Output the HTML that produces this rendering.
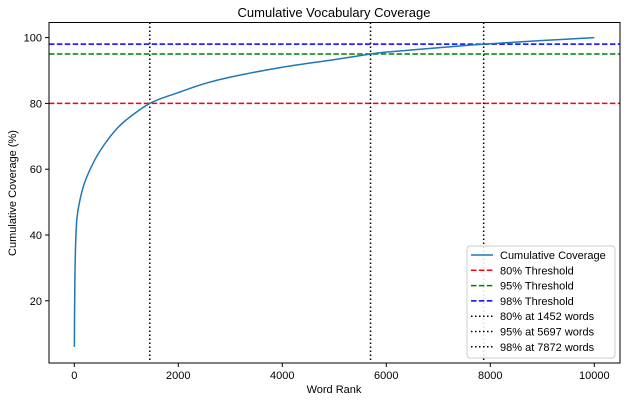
<!DOCTYPE html>
<html><head><meta charset="utf-8"><style>
body{margin:0;background:#fff;font-family:"Liberation Sans","DejaVu Sans",sans-serif;}
text{font-family:"Liberation Sans","DejaVu Sans",sans-serif;fill:#000;}
</style></head><body>
<svg id="chart" width="627" height="402" xmlns="http://www.w3.org/2000/svg">
<rect width="627" height="402" fill="#fff"/>
<text x="334" y="17" font-size="13" text-anchor="middle">Cumulative Vocabulary Coverage</text>
<g id="grid"></g>
<g id="plot"></g>
<rect x="49" y="22.5" width="571" height="340.5" fill="none" stroke="#000" stroke-width="1"/>
<g id="axes"></g>
<text x="334" y="393" font-size="11" text-anchor="middle">Word Rank</text>
<text transform="translate(16,193) rotate(-90)" font-size="11" text-anchor="middle">Cumulative Coverage (%)</text>
<g id="legend"></g>
</svg>
<script>
const ranks = [1,10,25,50,100,200,400,600,800,1000,1452,2000,2500,3000,4000,5000,5697,6000,7000,7872,9000,10000];
const coverage = [6,25,37,45,50,56,63,68,72,75,80,83.3,86,88,91,93.3,95,95.6,96.9,98,99.1,100];
const thresholds = [80,95,98];
const thresholdColors = ["#ff0000","#008000","#0000ff"];
const crossRanks = [1452,5697,7872];
const xTicks = [0,2000,4000,6000,8000,10000];
const yTicks = [20,40,60,80,100];
const NS="http://www.w3.org/2000/svg";
const X = v => 74.3 + v*0.052;
const Y = v => 366.6 - v*3.29;
const L=49,R=620,T=22.5,B=363;
function mk(tag, attrs, parent){const e=document.createElementNS(NS,tag);for(const k in attrs)e.setAttribute(k,attrs[k]);parent.appendChild(e);return e;}
const plot=document.getElementById('plot'), axes=document.getElementById('axes'), lg=document.getElementById('legend');
thresholds.forEach((t,i)=>{
  const l=mk('line',{x1:L,x2:R,y1:Y(t),y2:Y(t),stroke:thresholdColors[i],'stroke-width':1.5,'stroke-dasharray':'5.5,2.4'},plot);
  
  
});
crossRanks.forEach((r,i)=>{
  const l=mk('line',{x1:X(r),x2:X(r),y1:T,y2:B,stroke:'#000','stroke-width':1.5,'stroke-dasharray':'1.5,2.5'},plot);
  
  
});
let pts=ranks.map((r,i)=>[X(r),Y(coverage[i])]);
let d='M'+pts[0][0]+','+pts[0][1];
for(let i=0;i<pts.length-1;i++){
  const p0=pts[Math.max(i-1,0)],p1=pts[i],p2=pts[i+1],p3=pts[Math.min(i+2,pts.length-1)];
  const c1=[p1[0]+(p2[0]-p0[0])/6,p1[1]+(p2[1]-p0[1])/6];
  const c2=[p2[0]-(p3[0]-p1[0])/6,p2[1]-(p3[1]-p1[1])/6];
  d+=` C${c1[0]},${c1[1]} ${c2[0]},${c2[1]} ${p2[0]},${p2[1]}`;
}
const curve=mk('path',{d:d,fill:'none',stroke:'#1f77b4','stroke-width':1.5},plot);


xTicks.forEach(v=>{
  const t=mk('line',{x1:X(v),x2:X(v),y1:B,y2:B+4,stroke:'#000'},axes);
  
  
  const s=mk('text',{x:X(v),y:B+16,'font-size':11,'text-anchor':'middle'},axes);s.textContent=v;
  
  
});
yTicks.forEach(v=>{
  const t=mk('line',{x1:L-4,x2:L,y1:Y(v),y2:Y(v),stroke:'#000'},axes);
  
  
  const s=mk('text',{x:L-7,y:Y(v)+4,'font-size':11,'text-anchor':'end'},axes);s.textContent=v;
  
  
});
const box=mk('rect',{x:467,y:246,width:148,height:112,rx:3,fill:'#fff','fill-opacity':0.85,stroke:'#ccc'},lg);


const entries=[["Cumulative Coverage","#1f77b4",""]]
  .concat(thresholds.map((t,i)=>[t+"% Threshold",thresholdColors[i],"5.5,2.4"]))
  .concat(crossRanks.map((r,i)=>[thresholds[i]+"% at "+r+" words","#000","1.5,2.5"]));
entries.forEach((e,i)=>{
  const y=255+i*15.3;
  const g=mk('g',{},lg);
  
  
  const a={x1:471,x2:493,y1:y,y2:y,stroke:e[1],'stroke-width':1.5};if(e[2])a['stroke-dasharray']=e[2];
  mk('line',a,g);
  const s=mk('text',{x:500,y:y+4,'font-size':11},g);s.textContent=e[0];
});
</script>
</body></html>
